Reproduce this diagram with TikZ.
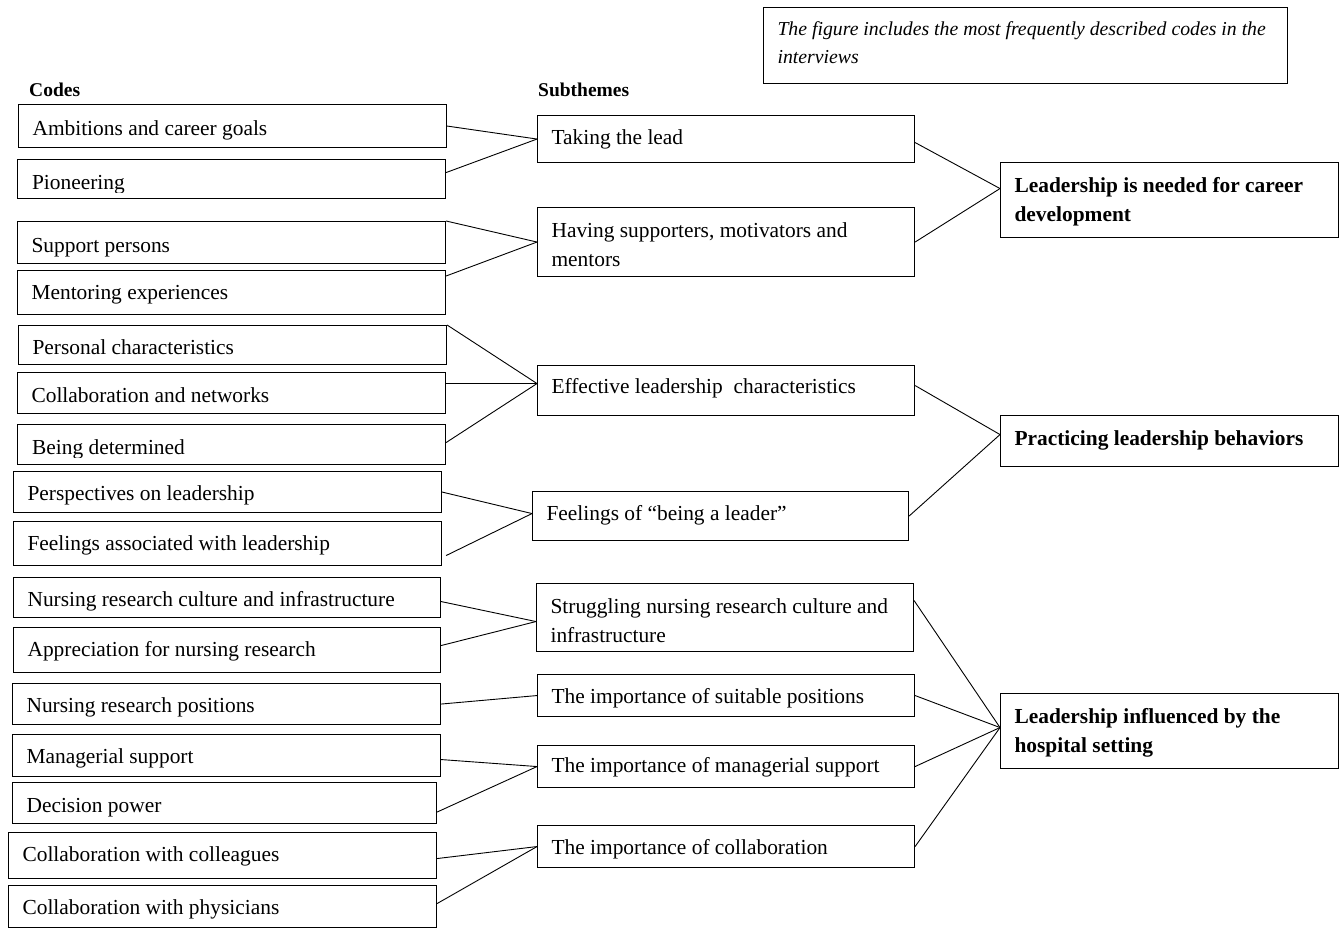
\documentclass[tikz,border=0pt]{standalone}
\usepackage{fontspec}
\setmainfont{Liberation Serif}
\usetikzlibrary{calc}
\newcommand\fcode{\fontsize{21.4}{28.5}\selectfont}
\newcommand\fhead{\fontsize{19.5}{24}\selectfont\bfseries}
\newcommand\fnote{\fontsize{19.75}{28}\selectfont\itshape}
% #1 style, #2 name, #3 x1, #4 y1, #5 x2, #6 y2, #7 first baseline below top, #8 text
\newcommand\bx[8]{%
  \pgfmathsetmacro\bxtw{#5-#3-28}%
  \pgfmathsetmacro\bxtd{#6-#4-#7}%
  \node[#1, anchor=north west, inner xsep=14pt, inner ysep=0pt,
        text width=\bxtw pt, text height=#7pt, text depth=\bxtd pt] (#2) at (#3,#4) {#8};}
% same, text clipped just below its baseline (as in the reference)
\newcommand\bxcut[7]{%
  \pgfmathsetmacro\bxtw{#5-#3-28}%
  \pgfmathsetmacro\bxtd{#6-#4-30}%
  \node[#1, anchor=north west, inner xsep=14pt, inner ysep=0pt,
        text width=\bxtw pt, text height=30pt, text depth=\bxtd pt,
        path picture={%
          \clip (path picture bounding box.north west) rectangle ([yshift=-33pt]path picture bounding box.north east);
          \node[anchor=base west, inner sep=0pt, text width=, text height=, text depth=, font=\fcode]
            (#2-text) at ([shift={(14pt,-30pt)}]path picture bounding box.north west) {#7};}]
    (#2) at (#3,#4) {};}
\tikzset{
  codebox/.style={draw, line width=1.1pt, align=flush left, font=\fcode},
  themebox/.style={draw, line width=1.1pt, align=flush left, font=\fcode\bfseries},
  notebox/.style={draw, line width=1pt, align=flush left, font=\fnote},
  link/.style={line width=0.9pt},
  boldlink/.style={line width=1.8pt},
  head/.style={anchor=base west, inner sep=0pt, font=\fhead}
}
\begin{document}
\begin{tikzpicture}[x=1pt, y=-1pt]
\useasboundingbox (0,0) rectangle (1341,928);

% note
\bx{notebox}{note}{763}{7}{1287}{83}{28}{\mbox{The figure includes the most frequently described codes in the}\\interviews}

% headers
\node[head] (codes) at (29,97) {Codes};
\node[head] (subthemes) at (538,97) {Subthemes};

% codes
\bx{codebox}{amb}{18}{104}{446}{147}{31}{Ambitions and career goals}
\bxcut{codebox}{pio}{17}{159}{445}{198}{Pioneering}
\bx{codebox}{sup}{17}{221}{445}{263}{31}{Support persons}
\bx{codebox}{men}{17}{270}{445}{314}{29}{Mentoring experiences}
\bx{codebox}{per}{18}{325}{446}{364}{29}{Personal characteristics}
\bx{codebox}{col}{17}{372}{445}{413}{30}{Collaboration and networks}
\bxcut{codebox}{bei}{17}{424}{445}{464}{Being determined}
\bx{codebox}{persp}{13}{471}{441}{512}{29}{Perspectives on leadership}
\bx{codebox}{fass}{13}{521}{441}{565}{29}{Feelings associated with leadership}
\bx{codebox}{nrc}{13}{577}{440}{617}{29}{Nursing research culture and infrastructure}
\bx{codebox}{app}{13}{627}{440}{672}{29}{Appreciation for nursing research}
\bx{codebox}{pos}{12}{683}{440}{724}{29}{Nursing research positions}
\bx{codebox}{mgs}{12}{734}{440}{776}{29}{Managerial support}
\bx{codebox}{dec}{12}{782}{436}{823}{30}{Decision power}
\bx{codebox}{colg}{8}{832}{436}{878}{29}{Collaboration with colleagues}
\bx{codebox}{phys}{8}{885}{436}{927}{29}{Collaboration with physicians}

% subthemes
\bx{codebox}{take}{537}{115}{914}{162}{29}{Taking the lead}
\bx{codebox}{have}{537}{207}{914}{276}{30}{Having supporters, motivators and\\mentors}
\bx{codebox}{eff}{537}{365}{914}{415}{28}{Effective leadership~ characteristics}
\bx{codebox}{feel}{532}{491}{908}{540}{29}{Feelings of “being a leader”}
\bx{codebox}{strug}{536}{583}{913}{651}{30}{Struggling nursing research culture and\\infrastructure}
\bx{codebox}{suit}{537}{674}{914}{716}{29}{The importance of suitable positions}
\bx{codebox}{mgr}{537}{745}{914}{787}{27}{The importance of managerial support}
\bx{codebox}{coll}{537}{825}{914}{867}{29}{The importance of collaboration}

% themes
\bx{themebox}{lead1}{1000}{162}{1338}{237}{30}{Leadership is needed for career\\development}
\bx{themebox}{prac}{1000}{415}{1338}{466}{30}{Practicing leadership behaviors}
\bx{themebox}{hosp}{1000}{693}{1338}{768}{30}{Leadership influenced by the\\hospital setting}

% entry points
\coordinate (effin) at ([yshift=7pt]eff.west);
\coordinate (feelin) at ([yshift=2.5pt]feel.west);
\coordinate (strugin) at ([yshift=-4pt]strug.west);
\coordinate (l1in) at ([yshift=11.5pt]lead1.west);
\coordinate (pin) at ([yshift=6.5pt]prac.west);
\coordinate (hin) at ([yshift=3.5pt]hosp.west);

% codes -> subthemes
\draw[link] (amb.east) -- (take.west);
\draw[link] ([yshift=6.5pt]pio.east) -- (take.west);
\draw[link] (sup.north east) -- (have.west);
\draw[link] ([yshift=-6pt]men.north east) -- (have.west);
\draw[link] (per.north east) -- (effin);
\draw[boldlink] (col.east |- effin) -- (effin);
\draw[link] ([yshift=2pt]bei.east) -- (effin);
\draw[link] (persp.east) -- (feelin);
\draw[link] ([shift={(4pt,-12pt)}]fass.east) -- (feelin);
\draw[link] ([yshift=-4pt]nrc.east) -- (strugin);
\draw[link] ([yshift=4.5pt]app.east) -- (strugin);
\draw[link] (pos.east) -- (suit.west);
\draw[link] ([yshift=-4pt]mgs.east) -- (mgr.west);
\draw[link] ([yshift=-9pt]dec.east) -- (mgr.west);
\draw[link] ([yshift=-3pt]colg.east) -- (coll.west);
\draw[link] ([yshift=3pt]phys.east) -- (coll.west);

% subthemes -> themes
\draw[link] ([yshift=-3.5pt]take.east) -- (l1in);
\draw[link] (have.east) -- (l1in);
\draw[link] ([yshift=5pt]eff.east) -- (pin);
\draw[link] (feel.east) -- (pin);
\draw[link] ([yshift=17pt]strug.east) -- (hin);
\draw[link] (suit.east) -- (hin);
\draw[link] (mgr.east) -- (hin);
\draw[link] (coll.east) -- (hin);
\end{tikzpicture}
\end{document}
